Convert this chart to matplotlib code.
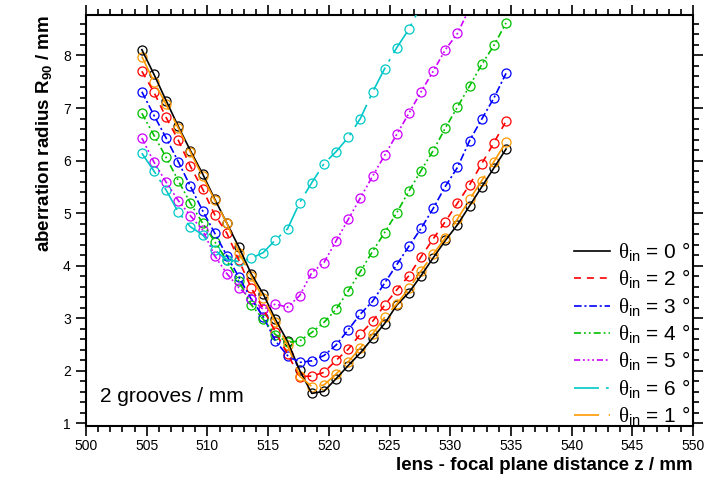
import numpy as np
import matplotlib
matplotlib.use("Agg")
import matplotlib.pyplot as plt

plt.rcParams['font.family'] = ['Liberation Sans', 'DejaVu Sans']
plt.rcParams['mathtext.fontset'] = 'custom'
plt.rcParams['mathtext.rm'] = 'Liberation Serif'
plt.rcParams['mathtext.sf'] = 'Liberation Sans'
plt.rcParams['mathtext.bf'] = 'Liberation Sans:bold'
plt.rcParams['lines.scale_dashes'] = False

# lens - focal plane distance (mm)
z = np.arange(504.6, 535.0, 1.0)

# aberration radius R90 (mm) for each incidence angle
r_0 = [8.11, 7.64, 7.14, 6.65, 6.19, 5.75, 5.27, 4.81, 4.35, 3.85, 3.46, 2.98, 2.56, 2.01, 1.57,
       1.61, 1.85, 2.10, 2.34, 2.62, 2.90, 3.25, 3.49, 3.81, 4.15, 4.48, 4.78, 5.14, 5.50, 5.86, 6.22]
r_2 = [7.70, 7.30, 6.82, 6.39, 5.89, 5.46, 4.97, 4.62, 4.10, 3.58, 3.18, 2.74, 2.32, 1.89, 1.90,
       1.97, 2.20, 2.41, 2.70, 2.94, 3.25, 3.54, 3.81, 4.17, 4.51, 4.84, 5.19, 5.54, 5.94, 6.34, 6.75]
r_3 = [7.31, 6.86, 6.43, 5.98, 5.51, 5.05, 4.62, 4.19, 3.78, 3.37, 3.03, 2.57, 2.29, 2.16, 2.19,
       2.29, 2.49, 2.78, 3.08, 3.32, 3.67, 4.02, 4.37, 4.71, 5.09, 5.51, 5.87, 6.38, 6.79, 7.19, 7.66]
r_4 = [6.90, 6.48, 6.06, 5.62, 5.19, 4.81, 4.46, 4.10, 3.70, 3.26, 2.98, 2.69, 2.54, 2.57, 2.73,
       2.92, 3.17, 3.52, 3.89, 4.27, 4.63, 5.01, 5.42, 5.81, 6.19, 6.62, 7.02, 7.42, 7.83, 8.19, 8.62]
r_5 = [6.43, 5.97, 5.59, 5.24, 4.95, 4.68, 4.19, 3.85, 3.58, 3.37, 3.17, 3.27, 3.21, 3.43, 3.87,
       4.06, 4.47, 4.88, 5.29, 5.70, 6.10, 6.50, 6.90, 7.31, 7.70, 8.11, 8.42, 8.90, 9.30, 9.70, 10.1]
r_6 = [6.14, 5.80, 5.44, 5.02, 4.74, 4.59, 4.30, 4.11, 4.08, 4.14, 4.25, 4.49, 4.70, 5.20, 5.58,
       5.94, 6.17, 6.44, 6.80, 7.30, 7.75, 8.15, 8.50, 8.95, 9.40, 9.90, 10.4, 10.9, 11.4, 11.9, 12.4]
r_1 = [7.98, 7.50, 7.07, 6.62, 6.16, 5.70, 5.25, 4.81, 4.25, 3.80, 3.38, 2.92, 2.49, 1.90, 1.70,
       1.73, 1.94, 2.17, 2.44, 2.70, 3.02, 3.27, 3.57, 3.90, 4.22, 4.53, 4.89, 5.26, 5.62, 5.98, 6.35]

series = [
    (r_0, '0', 'black', '-'),
    (r_2, '2', '#ff0000', (0, (5, 4.3))),
    (r_3, '3', '#0000ff', (0, (5.5, 2, 1.5, 2))),
    (r_4, '4', '#00c000', (0, (5, 2.2, 1.3, 2.2, 1.3, 2.2))),
    (r_5, '5', '#cc00ff', (0, (4.5, 2, 1.3, 2, 1.3, 2, 1.3, 2))),
    (r_6, '6', '#00c8c8', (0, (18, 5, 2, 5))),
    (r_1, '1', '#ff9900', (0, (18, 7))),
]

fig = plt.figure(figsize=(7.06, 4.8), dpi=100)
ax = fig.add_axes([86 / 706, 1 - 426 / 480, (693 - 86) / 706, (426 - 15) / 480])

for r, ang, col, ls in series:
    ax.plot(z, r, color=col, linestyle=ls, lw=1.2, zorder=3,
            label=r'$\mathrm{θ}_{\mathsf{in}}$ = ' + ang + ' °')
    ax.plot(z, r, linestyle='none', marker='o', ms=6.5, mfc='none', mec=col, mew=0.9, zorder=2)

ax.set_xlim(500, 550)
ax.set_ylim(0.95, 8.77)
ax.set_xticks(np.arange(500, 551, 5))
ax.set_xticks(np.arange(500, 551, 1), minor=True)
ax.set_yticks(np.arange(1, 9, 1))
ax.set_yticks(np.arange(1, 8.8, 0.2), minor=True)
ax.tick_params(which='both', direction='out', top=True, right=True, labeltop=False,
               labelright=False, labelsize=10, width=1.2)
ax.tick_params(which='major', length=7)
ax.tick_params(which='minor', length=4)
ax.tick_params(axis='x', pad=2)
ax.tick_params(axis='y', pad=4)
for s in ax.spines.values():
    s.set_linewidth(1.5)

ax.set_xlabel('lens - focal plane distance z / mm', fontsize=13.5, fontweight='bold',
              loc='right', labelpad=3)
ax.set_ylabel(r'aberration radius R$_{\mathbf{90}}$ / mm', fontsize=13.5,
              fontweight='bold', loc='top', labelpad=6)

ax.text(0.023, 0.058, '2 grooves / mm', transform=ax.transAxes, fontsize=15)

leg = ax.legend(loc='lower right', bbox_to_anchor=(1.0, -0.01), frameon=False,
                fontsize=15, handlelength=1.75, handletextpad=0.4, labelspacing=0.18,
                borderaxespad=0.0, borderpad=0.1)

fig.savefig('out.png', dpi=100)
